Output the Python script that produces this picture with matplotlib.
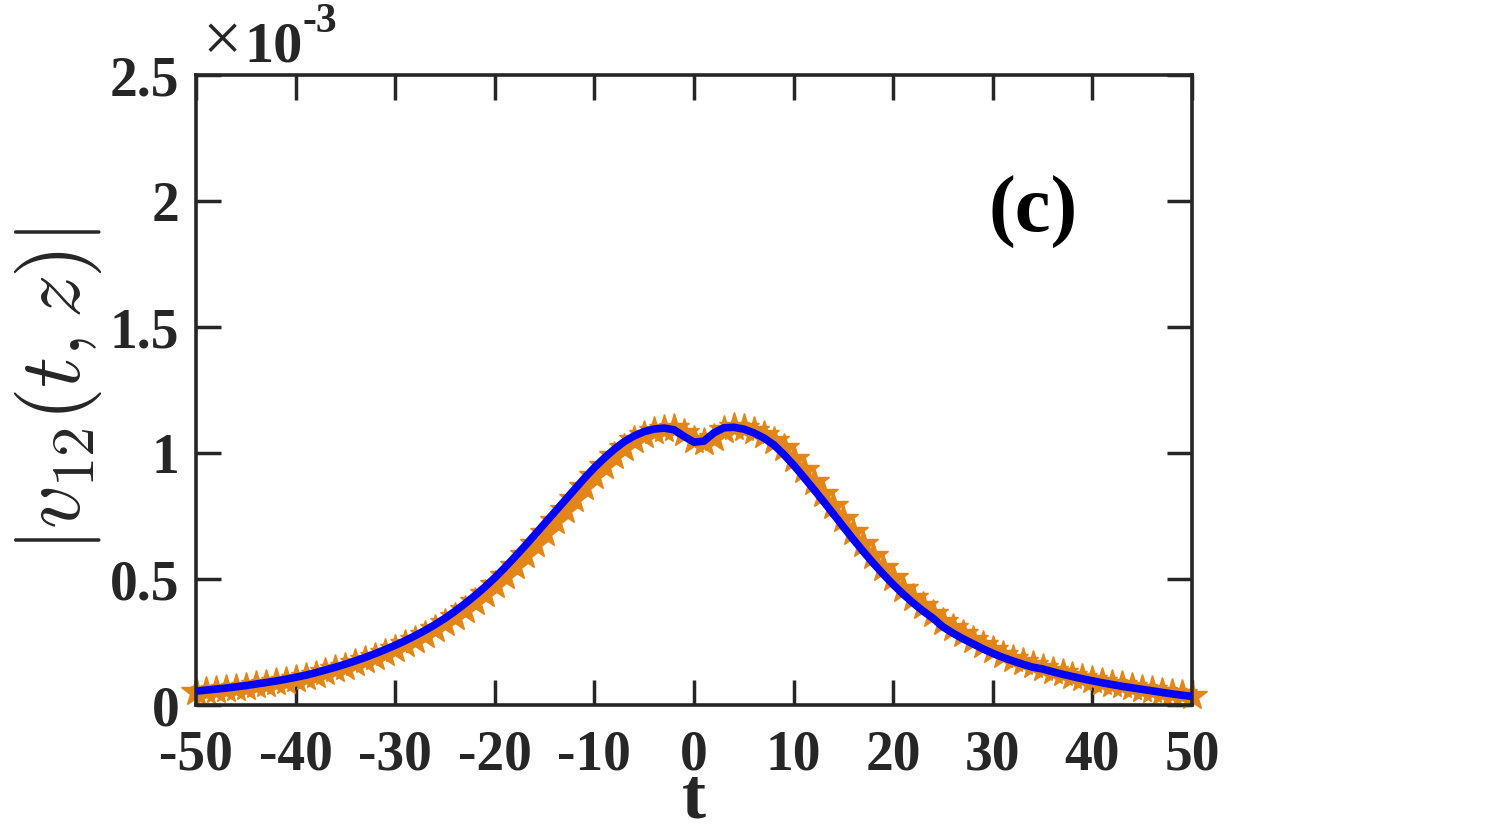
import numpy as np
import matplotlib
matplotlib.use("Agg")
import matplotlib.pyplot as plt

# ---- data (values in units of 1e-3) ----
t_line = list(range(-50, 51))
v_line = [
    0.055, 0.059, 0.063, 0.067, 0.072, 0.077, 0.083, 0.089, 0.095, 0.102,   # -50..-41
    0.110, 0.118, 0.128, 0.139, 0.150, 0.162, 0.175, 0.189, 0.204, 0.220,   # -40..-31
    0.237, 0.255, 0.275, 0.296, 0.319, 0.344, 0.372, 0.402, 0.434, 0.468,   # -30..-21
    0.505, 0.545, 0.587, 0.630, 0.675, 0.720, 0.765, 0.810, 0.855, 0.900,   # -20..-11
    0.942, 0.980, 1.015, 1.045, 1.068, 1.085, 1.095, 1.099, 1.092, 1.066,   # -10..-1
    1.043,                                                                  # 0
    1.047, 1.080, 1.100, 1.102, 1.095, 1.080, 1.060, 1.033, 0.995, 0.952,   # 1..10
    0.905, 0.857, 0.808, 0.758, 0.707, 0.657, 0.609, 0.563, 0.519, 0.478,   # 11..20
    0.440, 0.405, 0.373, 0.344, 0.310, 0.285, 0.263, 0.243, 0.223, 0.205,   # 21..30
    0.189, 0.175, 0.162, 0.150, 0.143, 0.132, 0.122, 0.113, 0.104, 0.096,   # 31..40
    0.088, 0.081, 0.074, 0.068, 0.062, 0.056, 0.050, 0.044, 0.039, 0.034,   # 41..50
]

t_star = list(range(-50, 51))
v_star = [
    0.052, 0.056, 0.060, 0.064, 0.068, 0.073, 0.078, 0.084, 0.090, 0.096,
    0.104, 0.112, 0.120, 0.130, 0.141, 0.152, 0.165, 0.178, 0.192, 0.207,
    0.223, 0.241, 0.259, 0.279, 0.301, 0.324, 0.350, 0.378, 0.408, 0.441,
    0.475, 0.513, 0.553, 0.596, 0.639, 0.684, 0.729, 0.774, 0.819, 0.864,
    0.909, 0.950, 0.987, 1.021, 1.050, 1.072, 1.087, 1.096, 1.098, 1.080,
    1.050,
    1.044, 1.060, 1.090, 1.102, 1.100, 1.089, 1.072, 1.049, 1.018, 0.978,
    0.933, 0.886, 0.837, 0.788, 0.738, 0.687, 0.637, 0.590, 0.545, 0.502,
    0.462, 0.425, 0.391, 0.360, 0.331, 0.305, 0.280, 0.258, 0.238, 0.218,
    0.200, 0.184, 0.170, 0.157, 0.145, 0.136, 0.126, 0.117, 0.109, 0.100,
    0.092, 0.085, 0.078, 0.071, 0.065, 0.059, 0.053, 0.047, 0.042, 0.036,
]

x_ticks = [-50, -40, -30, -20, -10, 0, 10, 20, 30, 40, 50]
x_ticklabels = ['-50', '-40', '-30', '-20', '-10', '0', '10', '20', '30', '40', '50']
y_ticks = [0, 0.5, 1, 1.5, 2, 2.5]
y_ticklabels = ['0', '0.5', '1', '1.5', '2', '2.5']

plt.rcParams['mathtext.fontset'] = 'cm'
serif = 'Liberation Serif'
axc = '#262626'

fig = plt.figure(figsize=(15.11, 8.32), dpi=100)
ax = fig.add_axes([196/1511, 1-705/832, (1192-196)/1511, (705-75)/832])

ax.plot(t_star, v_star, linestyle='none', marker='*', markersize=22,
        color='#E3861A', markeredgecolor='#E3861A', zorder=2, clip_on=False)
ax.plot(t_line, v_line, color='#0000FF', linewidth=5.5, zorder=3,
        solid_capstyle='butt')

ax.set_xlim(-50, 50)
ax.set_ylim(0, 2.5)
ax.set_xticks(x_ticks)
ax.set_xticklabels(x_ticklabels)
ax.set_yticks(y_ticks)
ax.set_yticklabels(y_ticklabels)

for lab in ax.get_xticklabels() + ax.get_yticklabels():
    lab.set_fontfamily(serif)
    lab.set_fontweight('bold')
    lab.set_fontsize(40)
    lab.set_color(axc)

ax.tick_params(axis='both', direction='in', length=18, width=2.5,
               color=axc, top=True, right=True)
ax.tick_params(axis='x', pad=18)
ax.tick_params(axis='y', pad=12)
for s in ax.spines.values():
    s.set_linewidth(2.6)
    s.set_color(axc)

# x label placed explicitly just below the tick labels
fig.text(694/1511, 1-818/832, 't', fontfamily=serif, fontweight='bold',
         fontsize=52, color=axc, ha='center', va='baseline')
ax.set_ylabel(r'$|v_{12}(t,z)|$', fontsize=62, color=axc, labelpad=4)

ax.text(0.84, 0.7825, '(c)', transform=ax.transAxes, fontfamily=serif,
        fontweight='bold', fontsize=58, color='black', ha='center', va='center')

# offset text  x10^-3
fig.text(222/1511, 1-44/832, '\u00d7', fontfamily=serif, fontsize=50,
         color=axc, ha='center', va='center')
fig.text(244/1511, 1-62/832, '10', fontfamily=serif, fontweight='bold',
         fontsize=42, color=axc, ha='left', va='baseline')
fig.text(303/1511, 1-32/832, '-3', fontfamily=serif, fontweight='bold',
         fontsize=30, color=axc, ha='left', va='baseline')

fig.savefig('out.png', dpi=100, facecolor='white')
